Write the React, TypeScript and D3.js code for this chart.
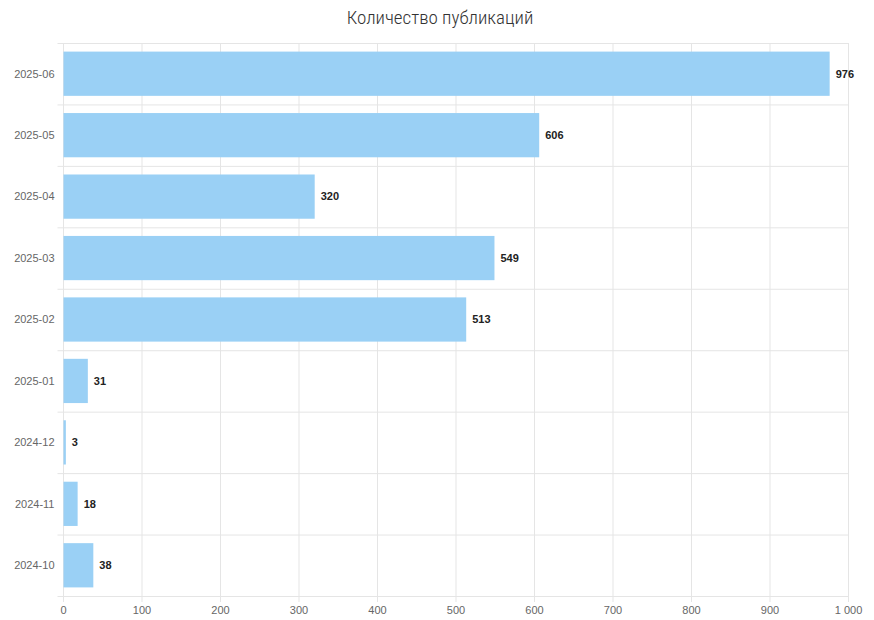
import React from "react";
import * as d3 from "d3";

const categories = ["2025-06", "2025-05", "2025-04", "2025-03", "2025-02", "2025-01", "2024-12", "2024-11", "2024-10"];
const values = [976, 606, 320, 549, 513, 31, 3, 18, 38];
const xTicks = [0, 100, 200, 300, 400, 500, 600, 700, 800, 900, 1000];
const title = "Количество публикаций";

const W = 874, H = 620;
const M = { left: 63.5, right: 25.5, top: 43, bottom: 24 };

export default function App() {
  const x = d3.scaleLinear().domain([0, 1000]).range([M.left, W - M.right]);
  const y = d3.scaleBand<string>().domain(categories).range([M.top, H - M.bottom]).paddingInner(0).paddingOuter(0);
  const bw = y.bandwidth();
  const barH = bw * 0.72;
  const fmt = (v: number) => (v >= 1000 ? d3.format(",")(v).replace(/,/g, " ") : String(v));
  const bottom = H - M.bottom;
  return (
    <svg width={W} height={H} style={{ position: "absolute", left: 0, top: 0 }} fontFamily="Liberation Sans, Arial, sans-serif">
      <rect width={W} height={H} fill="#fff" />
      <text x={440} y={24} textAnchor="middle" fontSize={19} fontWeight={300} fill="#333" fontFamily="'Liberation Sans Narrow', 'Roboto', sans-serif" style={{ fontStretch: "condensed" }}>{title}</text>
      {xTicks.map((t) => (
        <line key={"v" + t} x1={x(t)} x2={x(t)} y1={M.top} y2={bottom + 6} stroke="#e5e5e5" strokeWidth={1} />
      ))}
      {categories.map((c) => (
        <line key={"h" + c} x1={M.left - 6} x2={x(1000)} y1={(y(c) as number) + 0.5} y2={(y(c) as number) + 0.5} stroke="#e5e5e5" />
      ))}
      <line x1={M.left - 6} x2={x(1000)} y1={bottom + 0.5} y2={bottom + 0.5} stroke="#e5e5e5" />
      {categories.map((c, i) => {
        const yc = (y(c) as number) + bw / 2;
        return (
          <g key={c}>
            <rect x={x(0)} y={yc - barH / 2} width={x(values[i]) - x(0)} height={barH} fill="#9AD0F5" />
            <text x={x(values[i]) + 6} y={yc} dy="0.35em" fontSize={11} fontWeight="bold" fill="#222">{values[i]}</text>
            <text x={M.left - 9} y={yc} dy="0.35em" fontSize={11} fill="#666" textAnchor="end">{c}</text>
          </g>
        );
      })}
      {xTicks.map((t) => (
        <text key={"t" + t} x={x(t)} y={bottom + 18} fontSize={11} fill="#666" textAnchor="middle">{fmt(t)}</text>
      ))}
    </svg>
  );
}
